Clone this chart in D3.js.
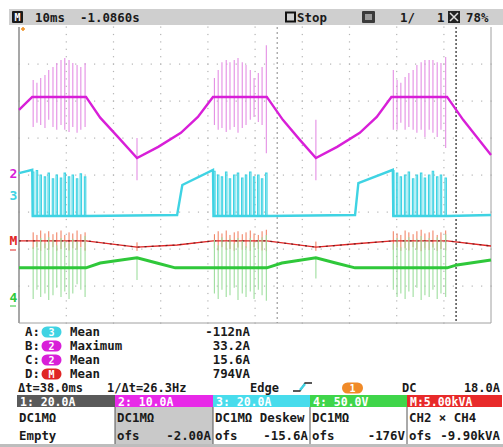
<!DOCTYPE html>
<html>
<head>
<meta charset="utf-8">
<script src="https://cdnjs.cloudflare.com/ajax/libs/d3/7.8.5/d3.min.js"></script>
<style>
body { margin:0; background:#fff; }
svg text { font-family:"DejaVu Sans Mono", monospace; font-size:12.4px; font-weight:bold; fill:#1a1a1a; }
</style>
</head>
<body>
<div id="chart-area"></div>
<script>
/*
*    scope capture, 10ms/div, 4 canales + math
*/

// traces: [ms, divisiones]
const ch2Line = [[0,1.76],[2.8,2.11],[14.2,2.11],[17.2,1.55],[20.8,1.05],[25.0,0.46],[29.5,0.76],[34.3,1.14],[37.9,1.57],[41.1,2.11],
    [52.5,2.11],[55.9,1.49],[59.5,0.95],[62.9,0.46],[67.4,0.76],[72.2,1.14],[75.8,1.57],[78.9,2.11],[90.7,2.11],[94.1,1.49],[100,0.54]]
const ch3Line = [[0,0.05],[2.8,0.14],[2.9,-1.11],[14.2,-1.11],[33.5,-1.08],[34.6,-0.27],[41.1,0.14],[41.2,-1.11],[52.5,-1.11],
    [71.2,-1.08],[71.9,-0.22],[79.2,0.14],[79.3,-1.11],[90.7,-1.11],[100,-1.08]]
const mathLine = [[0,-1.78],[14.2,-1.78],[25.0,-1.95],[33.5,-1.89],[41.1,-1.78],[52.5,-1.78],[62.9,-1.95],[71.4,-1.86],[79.2,-1.78],
    [90.7,-1.78],[100,-1.92]]
const ch4Line = [[0,-2.51],[14.2,-2.51],[17.2,-2.38],[25.0,-2.24],[29.2,-2.38],[33.1,-2.51],[52.5,-2.51],[55.7,-2.38],[62.9,-2.24],
    [67.1,-2.38],[71.2,-2.51],[90.7,-2.51],[92.8,-2.43],[100,-2.30]]

// switching bursts (ms)
const spikeT = [3.0,3.8,4.6,5.5,6.3,7.2,8.0,8.9,9.7,10.6,11.4,12.3,13.1,14.0,
    41.4,42.2,43.0,43.9,44.7,45.6,46.4,47.3,48.1,49.0,49.8,50.7,51.5,52.4,
    79.3,80.1,80.9,81.8,82.6,83.5,84.3,85.2,86.0,86.9,87.7,88.6,89.4,90.4]
const magHi = [2.57,2.49,2.62,2.70,2.84,2.92,3.03,3.11,3.16,3.11,3.03,2.97,2.92,3.03,
    2.62,2.84,3.05,3.11,3.05,3.11,3.16,3.05,2.97,2.84,2.62,2.76,2.92,3.51,
    2.84,2.57,2.49,2.65,2.76,2.84,2.97,3.05,3.11,3.11,3.11,3.05,3.03,3.19]
const magLo = [1.30,1.41,1.35,1.27,1.49,1.30,1.22,1.35,1.22,1.16,1.30,1.14,1.22,1.30,
    1.35,1.22,1.27,1.16,1.22,1.30,1.14,1.27,1.35,1.49,1.57,1.43,1.35,0.59,
    1.22,1.22,1.41,1.22,1.30,1.22,1.14,1.22,1.03,1.22,1.14,1.03,1.22,0.73]
const cyanTop = [0.08,0.12,0.0,-0.05,0.05,-0.1,0.0,-0.08,0.05,-0.05,0.0,-0.1,0.03,-0.05,
    0.1,0.0,-0.05,0.08,-0.1,0.0,0.05,-0.08,0.0,0.08,-0.05,0.0,-0.1,0.05,
    0.12,0.05,-0.05,0.0,0.08,-0.1,0.0,0.05,-0.08,0.0,0.1,-0.05,0.0,-0.08]
const redHi = [-1.55,-1.62,-1.50,-1.58,-1.52,-1.60,-1.55,-1.50,-1.62,-1.55,-1.58,-1.50,-1.60,-1.55,
    -1.60,-1.52,-1.58,-1.50,-1.62,-1.55,-1.52,-1.60,-1.55,-1.50,-1.58,-1.62,-1.52,-1.48,
    -1.52,-1.58,-1.62,-1.50,-1.55,-1.60,-1.52,-1.48,-1.58,-1.55,-1.50,-1.62,-1.55,-1.50]
const redLo = [-2.00,-1.95,-2.05,-1.98,-2.02,-1.95,-2.05,-2.00,-1.96,-2.04,-1.98,-2.02,-1.95,-2.05,
    -1.98,-2.04,-1.95,-2.02,-2.00,-2.05,-1.96,-2.02,-1.98,-2.05,-1.95,-2.00,-2.04,-2.06,
    -2.02,-1.96,-2.05,-1.98,-2.04,-1.95,-2.02,-2.06,-1.98,-2.03,-1.96,-2.05,-2.00,-2.04]
const grnHi = [-1.95,-1.80,-1.70,-1.85,-1.68,-1.75,-1.90,-1.70,-1.78,-1.85,-1.72,-1.80,-1.95,-1.65,
    -1.75,-1.90,-1.68,-1.80,-1.72,-1.85,-1.70,-1.78,-1.92,-1.70,-1.82,-1.75,-1.68,-1.62,
    -1.85,-1.70,-1.95,-1.75,-1.68,-1.80,-1.72,-1.65,-1.78,-1.70,-1.85,-1.68,-1.75,-1.60]
const grnLo = [-3.35,-3.10,-3.30,-3.20,-3.38,-3.25,-3.05,-3.30,-3.15,-3.35,-3.20,-2.95,-3.10,-3.30,
    -3.20,-3.35,-3.10,-3.30,-3.25,-3.05,-3.38,-3.20,-3.30,-3.15,-3.35,-3.10,-3.25,-3.40,
    -3.10,-3.30,-3.20,-3.35,-3.15,-3.30,-3.05,-3.38,-3.25,-3.30,-3.10,-3.35,-3.20,-3.30]

// spikes at the valleys
const minT = [25.0, 62.9]
const magMinHi = [1.00, 1.49], magMinLo = [-0.14, -0.14]
const grnMinHi = [-2.24, -2.24], grnMinLo = [-2.84, -2.80]
const redMinHi = [-1.82, -1.80], redMinLo = [-2.05, -2.05]

const cursorT = [54.7, 92.6]

// texts
const headerTexts = ["10ms", "-1.0860s", "Stop", "1/", "1", "78%"]
const measLabels = ["A:", "B:", "C:", "D:"]
const measChannels = ["3", "2", "2", "M"]
const measStats = ["Mean", "Maximum", "Mean", "Mean"]
const measValues = ["-112nA", "33.2A", "15.6A", "794VA"]
const cursorTexts = ["\u0394t=38.0ms", "1/\u0394t=26.3Hz"]
const trigTexts = ["Edge", "1", "DC", "18.0A"]
const chanIds = ["1", "2", "3", "4", "M"]
const chanScales = ["1: 20.0A", "2: 10.0A", "3: 20.0A", "4: 50.0V", "M:5.00kVA"]
const chanCoupling = ["DC1M\u03a9", "DC1M\u03a9", "DC1M\u03a9  Deskew", "DC1M\u03a9", "CH2 \u00d7 CH4"]
const chanOfsLabel = ["Empty", "ofs", "ofs", "ofs", "ofs"]
const chanOfs = ["", "-2.00A", "-15.6A", "-176V", "-9.90kVA"]

var colors = { "1":"#555555", "2":"#d81fd8", "3":"#3fd3e3", "4":"#2fc83a", "M":"#e02525" }
var barColors = { "1":"#5a5a5a", "2":"#e829e8", "3":"#48dcec", "4":"#3fd54a", "M":"#e82a2a" }

var W = 503, H = 447
var plot = { left:19, right:491, top:27, bottom:323 }

var svg = d3.select("#chart-area").append("svg")
    .attr("width", W).attr("height", H)

svg.append("rect").attr("width", W).attr("height", H).attr("fill", "#fff")

var x = d3.scaleLinear().domain([0, 100]).range([plot.left, plot.right])
var y = d3.scaleLinear().domain([-4, 4]).range([plot.bottom, plot.top])

// ---- header bar
svg.append("rect").attr("x", 9).attr("y", 9).attr("width", 494).attr("height", 16).attr("fill", "#cfcfcf")
svg.append("rect").attr("x", 12).attr("y", 11).attr("width", 11).attr("height", 12).attr("rx", 1).attr("fill", "#1a1a1a")
svg.append("text").attr("x", 17.5).attr("y", 21).attr("text-anchor", "middle")
    .style("fill", "#fff").style("font-size", "10px").text("M")
var hx = [35, 80, 297, 400, 437, 466]
headerTexts.forEach(function(t, i){
    svg.append("text").attr("x", hx[i]).attr("y", 22).text(t)
})
svg.append("rect").attr("x", 286).attr("y", 12.5).attr("width", 9).attr("height", 9)
    .attr("fill", "none").attr("stroke", "#111").attr("stroke-width", 2)
svg.append("rect").attr("x", 362).attr("y", 11).attr("width", 13).attr("height", 12).attr("rx", 1).attr("fill", "#3a3a3a")
svg.append("rect").attr("x", 365).attr("y", 14).attr("width", 7).attr("height", 6).attr("fill", "#9a9a9a")
svg.append("rect").attr("x", 448).attr("y", 11).attr("width", 12).attr("height", 12).attr("fill", "#222")
svg.append("path").attr("d", "M450,13 L458,21 M458,13 L450,21").attr("stroke", "#ddd").attr("stroke-width", 1.5)

// ---- plot frame + grid
var grid = svg.append("g")
d3.range(1, 10).forEach(function(k){
    d3.range(-4, 4.01, 0.2).forEach(function(v){
        grid.append("rect").attr("x", x(k * 10) - 0.5).attr("y", y(v) - 0.5)
            .attr("width", 1.2).attr("height", 1.2).attr("fill", "#b4b4b4")
    })
})
d3.range(-3, 4).forEach(function(j){
    d3.range(0, 100.1, 2).forEach(function(t){
        grid.append("rect").attr("x", x(t) - 0.5).attr("y", y(j) - 0.5)
            .attr("width", 1.2).attr("height", 1.2).attr("fill", "#b4b4b4")
    })
})
svg.append("line").attr("x1", plot.left).attr("x2", plot.left).attr("y1", plot.top).attr("y2", plot.bottom)
    .attr("stroke", "#8a8a8a").attr("stroke-width", 1.5)
svg.append("line").attr("x1", plot.right).attr("x2", plot.right).attr("y1", plot.top).attr("y2", plot.bottom)
    .attr("stroke", "#a0a0a0")
svg.append("line").attr("x1", plot.left).attr("x2", plot.right).attr("y1", plot.bottom).attr("y2", plot.bottom)
    .attr("stroke", "#a0a0a0")

// cursores
svg.append("line").attr("x1", x(cursorT[0])).attr("x2", x(cursorT[0])).attr("y1", plot.top).attr("y2", plot.bottom)
    .attr("stroke", "#888").attr("stroke-dasharray", "2,3")
svg.append("line").attr("x1", x(cursorT[1])).attr("x2", x(cursorT[1])).attr("y1", plot.top).attr("y2", plot.bottom)
    .attr("stroke", "#333").attr("stroke-width", 1.3).attr("stroke-dasharray", "2,2")

// trigger mark
svg.append("path").attr("d", "M21,29 L25,29 M23,27 L23,31").attr("stroke", "#f09020").attr("stroke-width", 1.5)

var line = d3.line().x(d => x(d[0])).y(d => y(d[1]))

function spikes(times, hi, lo, color, w){
    svg.append("g").selectAll("line")
        .data(times)
        .join("line")
        .attr("x1", d => x(d)).attr("x2", d => x(d))
        .attr("y1", (d, i) => y(hi[i])).attr("y2", (d, i) => y(lo[i]))
        .attr("stroke", color).attr("stroke-width", w || 1)
}

// ch2 magenta
spikes(spikeT, magHi, magLo, "#e48ee4", 1.1)
spikes(minT, magMinHi, magMinLo, "#e48ee4", 1.1)
svg.append("path").datum(ch2Line).attr("d", line)
    .attr("fill", "none").attr("stroke", colors["2"]).attr("stroke-width", 2.4)

// ch3 cyan, pulses on top of the low level
var cyanPulses = []
spikeT.forEach(function(t, i){
    cyanPulses.push([[t - 0.15, -1.11], [t - 0.15, cyanTop[i]], [t + 0.15, cyanTop[i]], [t + 0.15, -1.11]])
})
svg.append("path").datum(ch3Line).attr("d", line)
    .attr("fill", "none").attr("stroke", colors["3"]).attr("stroke-width", 2.4)
svg.append("g").selectAll("path").data(cyanPulses).join("path")
    .attr("d", line).attr("fill", "none").attr("stroke", colors["3"]).attr("stroke-width", 1.1)

// math (red)
spikes(spikeT, redHi, redLo, "#f07a5a", 1)
spikes(minT, redMinHi, redMinLo, "#f07a5a", 1)
svg.append("path").datum(mathLine).attr("d", line)
    .attr("fill", "none").attr("stroke", colors["M"]).attr("stroke-width", 1.4)
svg.append("path").datum(mathLine).attr("d", line)
    .attr("fill", "none").attr("stroke", "#4a1a1a").attr("stroke-width", 1.3)
    .attr("stroke-dasharray", "2,5").attr("opacity", 0.7)

// ch4 green
spikes(spikeT, grnHi, grnLo, "#9ede9e", 1.1)
spikes(minT, grnMinHi, grnMinLo, "#9ede9e", 1.1)
svg.append("path").datum(ch4Line).attr("d", line)
    .attr("fill", "none").attr("stroke", colors["4"]).attr("stroke-width", 3)

// channel markers on the left
var markerY = { "2": 178, "3": 200, "M": 245, "4": 302 }
;["2", "3", "M", "4"].forEach(function(c){
    svg.append("text").attr("x", 9.5).attr("y", markerY[c])
        .style("fill", colors[c]).style("font-size", "13px").text(c)
})
svg.append("line").attr("x1", 10).attr("x2", 16).attr("y1", 250).attr("y2", 250).attr("stroke", colors["M"])
svg.append("line").attr("x1", 10).attr("x2", 16).attr("y1", 306).attr("y2", 306).attr("stroke", colors["4"])

// ---- measurements
function badge(cx, cy, w, txt, color){
    svg.append("rect").attr("x", cx - w / 2).attr("y", cy - 5.5).attr("width", w).attr("height", 11)
        .attr("rx", 5.5).attr("fill", color)
    svg.append("text").attr("x", cx).attr("y", cy + 3.5).attr("text-anchor", "middle")
        .style("fill", "#fff").style("font-size", "10px").text(txt)
}
measLabels.forEach(function(lab, i){
    var by = 336 + i * 14
    svg.append("text").attr("x", 25).attr("y", by).text(lab)
    badge(51.5, by - 4, 20, measChannels[i], colors[measChannels[i]])
    svg.append("text").attr("x", 70).attr("y", by).text(measStats[i])
    svg.append("text").attr("x", 250).attr("y", by).attr("text-anchor", "end").text(measValues[i])
})

// cursor / trigger row
var rowY = 392
svg.append("text").attr("x", 18).attr("y", rowY).style("font-size", "12px").text(cursorTexts[0])
svg.append("text").attr("x", 107).attr("y", rowY).style("font-size", "12px").text(cursorTexts[1])
svg.append("text").attr("x", 250).attr("y", rowY).style("font-size", "12px").text(trigTexts[0])
svg.append("path").attr("d", "M293,391 L300,391 L305,383 L312,383").attr("fill", "none").attr("stroke", "#222").attr("stroke-width", 1.3)
svg.append("path").attr("d", "M300,390 L305,384").attr("stroke", colors["3"]).attr("stroke-width", 2.5)
badge(352.5, 388, 21, trigTexts[1], "#f08a28")
svg.append("text").attr("x", 402).attr("y", rowY).style("font-size", "12px").text(trigTexts[2])
svg.append("text").attr("x", 500).attr("y", rowY).attr("text-anchor", "end").style("font-size", "12px").text(trigTexts[3])

// channel table
var colX = [17, 115, 213, 310, 407, 502]
svg.append("rect").attr("x", colX[1]).attr("y", 407).attr("width", colX[2] - colX[1]).attr("height", 37).attr("fill", "#c9c9c9")
chanIds.forEach(function(c, i){
    var x0 = colX[i], x1 = colX[i + 1]
    svg.append("rect").attr("x", x0).attr("y", 395).attr("width", x1 - x0).attr("height", 12).attr("fill", barColors[c])
    svg.append("text").attr("x", x0 + 3).attr("y", 406).style("fill", "#fff").style("font-size", "11.5px").text(chanScales[i])
    svg.append("text").attr("x", x0 + 2).attr("y", 422).text(chanCoupling[i])
    svg.append("text").attr("x", x0 + 2).attr("y", 440).text(chanOfsLabel[i])
    svg.append("text").attr("x", x1 - 2).attr("y", 440).attr("text-anchor", "end").text(chanOfs[i])
    if (i > 0) {
        svg.append("line").attr("x1", x0).attr("x2", x0).attr("y1", 407).attr("y2", 444).attr("stroke", "#555")
    }
})
svg.append("rect").attr("x", 0).attr("y", 444).attr("width", W).attr("height", 3).attr("fill", "#bdbdbd")
</script>
</body>
</html>
